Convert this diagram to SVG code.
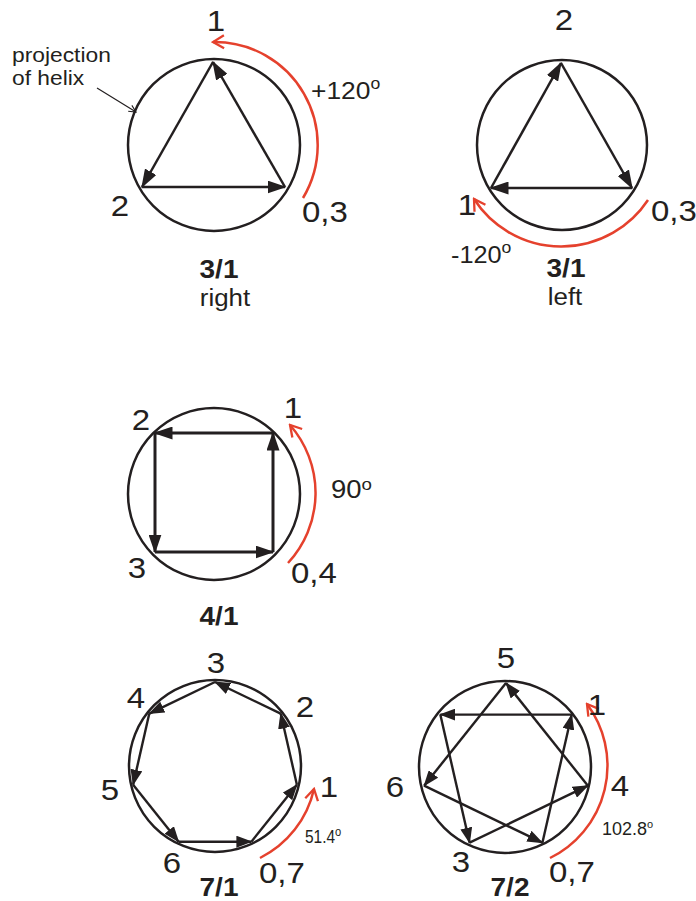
<svg xmlns="http://www.w3.org/2000/svg" width="696" height="901" viewBox="0 0 696 901">
<style>
text { font-family: "Liberation Sans", Arial, sans-serif; fill: #231f20; }
.lab { font-size: 30px; }
.b { font-size: 25px; font-weight: bold; }
.w { font-size: 24px; }
.ring { fill: none; stroke: #231f20; stroke-width: 2.5; }
.e { stroke: #231f20; stroke-width: 2.5; fill: none; marker-end: url(#ah); }
.eb { stroke: #231f20; stroke-width: 3; fill: none; marker-end: url(#ah); }
.es { stroke: #231f20; stroke-width: 2.4; fill: none; marker-end: url(#ahs); }
.red { stroke: #e5412d; stroke-width: 2.5; fill: none; marker-end: url(#chev); }
</style>
<defs>
<marker id="ah" viewBox="0 0 19 13" markerWidth="19" markerHeight="13" refX="17.5" refY="6.5" orient="auto" markerUnits="userSpaceOnUse">
<path d="M0,0 L19,6.5 L0,13 z" fill="#231f20"/>
</marker>
<marker id="ahs" viewBox="0 0 16 12" markerWidth="16" markerHeight="12" refX="15" refY="6" orient="auto" markerUnits="userSpaceOnUse">
<path d="M0,0 L16,6 L0,12 z" fill="#231f20"/>
</marker>
<marker id="chev" viewBox="-13 -8 15 16" markerWidth="15" markerHeight="16" refX="0" refY="0" orient="auto" markerUnits="userSpaceOnUse">
<path d="M-11,-6.5 L0,0 L-11,6.5" fill="none" stroke="#e5412d" stroke-width="2.3"/>
</marker>
<marker id="thin" viewBox="-9 -5 10 10" markerWidth="10" markerHeight="10" refX="0" refY="0" orient="auto" markerUnits="userSpaceOnUse">
<path d="M-7,-3.5 L0,0 L-7,3.5" fill="none" stroke="#231f20" stroke-width="1.1"/>
</marker>
</defs>

<g id="panel-3-1-right">
<circle class="ring" cx="214" cy="145" r="86"/>
<g id="conn-3-1-right">
<line class="e" x1="213" y1="62" x2="142" y2="187"/>
<line class="e" x1="142" y1="187" x2="285" y2="187"/>
<line class="e" x1="285" y1="187" x2="213" y2="62"/>
<path class="red" d="M 303 198 A 103 103 0 0 0 213 42"/>
<line x1="97" y1="88" x2="136" y2="112" stroke="#231f20" stroke-width="1.1" marker-end="url(#thin)"/>
</g>
<text class="lab" text-anchor="middle" transform="translate(216 31) scale(1.1 1)">1</text>
<text class="lab" text-anchor="middle" transform="translate(120 216) scale(1.1 1)">2</text>
<text class="lab" transform="translate(302 222) scale(1.1 1)">0,3</text>
<text class="w" transform="translate(311 99) scale(1.1 1)">+120<tspan font-size="16" dy="-10">o</tspan></text>
<text font-size="20" transform="translate(12 62) scale(1.14 1)">projection</text>
<text font-size="20" transform="translate(12 85) scale(1.14 1)">of helix</text>
<text class="b" text-anchor="middle" transform="translate(219 278) scale(1.12 1)">3/1</text>
<text class="w" text-anchor="middle" transform="translate(225 306) scale(1.08 1)">right</text>
</g>

<g id="panel-3-1-left">
<circle class="ring" cx="562" cy="145" r="85"/>
<g id="conn-3-1-left">
<line class="e" x1="491" y1="188" x2="561" y2="63"/>
<line class="e" x1="561" y1="63" x2="632" y2="188"/>
<line class="e" x1="632" y1="188" x2="491" y2="188"/>
<path class="red" d="M 648 200 A 104 104 0 0 1 474 199"/>
</g>
<text class="lab" text-anchor="middle" transform="translate(564 30) scale(1.1 1)">2</text>
<text class="lab" text-anchor="middle" transform="translate(467 215) scale(1.1 1)">1</text>
<text class="lab" transform="translate(651 221) scale(1.1 1)">0,3</text>
<text font-size="23" transform="translate(451 263) scale(1.1 1)">-120<tspan font-size="16" dy="-10">o</tspan></text>
<text class="b" text-anchor="middle" transform="translate(566 277) scale(1.12 1)">3/1</text>
<text class="w" text-anchor="middle" transform="translate(565 305) scale(1.08 1)">left</text>
</g>

<g id="panel-4-1">
<circle class="ring" cx="214" cy="494" r="86"/>
<g id="conn-4-1">
<line class="eb" x1="273" y1="552" x2="273" y2="433"/>
<line class="eb" x1="273" y1="433" x2="155" y2="433"/>
<line class="eb" x1="155" y1="433" x2="155" y2="552"/>
<line class="eb" x1="155" y1="552" x2="273" y2="552"/>
<path class="red" d="M 288 563 A 103 103 0 0 0 290 425"/>
</g>
<text class="lab" text-anchor="middle" transform="translate(293 418) scale(1.1 1)">1</text>
<text class="lab" text-anchor="middle" transform="translate(141 430) scale(1.1 1)">2</text>
<text class="lab" text-anchor="middle" transform="translate(137 578) scale(1.1 1)">3</text>
<text class="lab" transform="translate(291 583) scale(1.1 1)">0,4</text>
<text font-size="25" transform="translate(331 498) scale(1.1 1)">90<tspan font-size="17" dy="-8">o</tspan></text>
<text class="b" text-anchor="middle" transform="translate(219 625) scale(1.12 1)">4/1</text>
</g>

<g id="panel-7-1">
<circle class="ring" cx="215" cy="766" r="86"/>
<g id="conn-7-1">
<line class="es" x1="251.4" y1="841.7" x2="296.9" y2="784.7"/>
<line class="es" x1="296.9" y1="784.7" x2="280.7" y2="713.6"/>
<line class="es" x1="280.7" y1="713.6" x2="215" y2="682"/>
<line class="es" x1="215" y1="682" x2="149.3" y2="713.6"/>
<line class="es" x1="149.3" y1="713.6" x2="133.1" y2="784.7"/>
<line class="es" x1="133.1" y1="784.7" x2="178.6" y2="841.7"/>
<line class="es" x1="178.6" y1="841.7" x2="251.4" y2="841.7"/>
<path class="red" d="M 260 858 A 102 102 0 0 0 314 789"/>
</g>
<text class="lab" text-anchor="middle" transform="translate(216 673) scale(1.1 1)">3</text>
<text class="lab" text-anchor="middle" transform="translate(305 717) scale(1.1 1)">2</text>
<text class="lab" text-anchor="middle" transform="translate(136 708) scale(1.1 1)">4</text>
<text class="lab" text-anchor="middle" transform="translate(110 800) scale(1.1 1)">5</text>
<text class="lab" text-anchor="middle" transform="translate(329 797) scale(1.1 1)">1</text>
<text class="lab" text-anchor="middle" transform="translate(172 873) scale(1.1 1)">6</text>
<text class="lab" transform="translate(259 883) scale(1.1 1)">0,7</text>
<text font-size="18" transform="translate(305 843) scale(0.86 1)">51.4<tspan font-size="13" dy="-7">o</tspan></text>
<text class="b" text-anchor="middle" transform="translate(219 896) scale(1.12 1)">7/1</text>
</g>

<g id="panel-7-2">
<circle class="ring" cx="505" cy="767" r="86"/>
<g id="conn-7-2">
<line class="es" x1="542.4" y1="842.7" x2="571.7" y2="714.6"/>
<line class="es" x1="571.7" y1="714.6" x2="440.3" y2="714.6"/>
<line class="es" x1="440.3" y1="714.6" x2="469.6" y2="842.7"/>
<line class="es" x1="469.6" y1="842.7" x2="587.9" y2="785.7"/>
<line class="es" x1="587.9" y1="785.7" x2="506" y2="683"/>
<line class="es" x1="506" y1="683" x2="424.1" y2="785.7"/>
<line class="es" x1="424.1" y1="785.7" x2="542.4" y2="842.7"/>
<path class="red" d="M 550 858 A 103 103 0 0 0 587 704"/>
</g>
<text class="lab" text-anchor="middle" transform="translate(506 668) scale(1.1 1)">5</text>
<text class="lab" text-anchor="middle" transform="translate(597 715) scale(1.1 1)">1</text>
<text class="lab" text-anchor="middle" transform="translate(620 796) scale(1.1 1)">4</text>
<text class="lab" text-anchor="middle" transform="translate(395 797) scale(1.1 1)">6</text>
<text class="lab" text-anchor="middle" transform="translate(461 872) scale(1.1 1)">3</text>
<text class="lab" transform="translate(549 882) scale(1.1 1)">0,7</text>
<text font-size="18" transform="translate(602 835)">102.8<tspan font-size="11" dy="-7">o</tspan></text>
<text class="b" text-anchor="middle" transform="translate(510 896) scale(1.12 1)">7/2</text>
</g>
</svg>
